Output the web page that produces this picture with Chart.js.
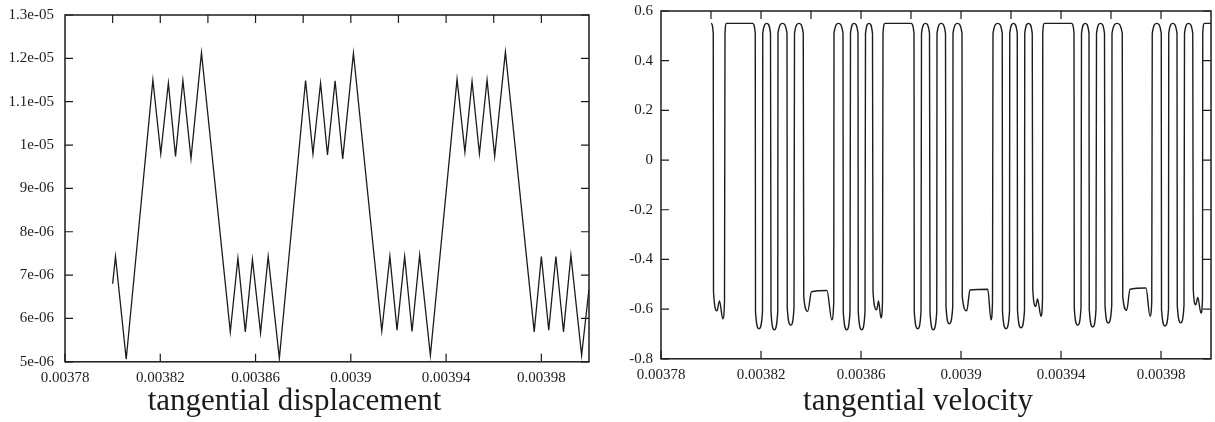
<!DOCTYPE html>
<html>
<head>
<meta charset="utf-8">
<script src="https://cdn.jsdelivr.net/npm/chart.js@4.4.1/dist/chart.umd.min.js"></script>
<style>
  body { margin: 0; background: #fff; }
  #left { position: absolute; left: 0; top: 0; width: 600px; height: 422px; }
  #right { position: absolute; left: 625px; top: 0; width: 590px; height: 422px; }
</style>
</head>
<body>
<div id="left"><canvas id="dispChart" width="600" height="422"></canvas></div>
<div id="right"><canvas id="velChart" width="590" height="422"></canvas></div>
<script>
// tick values and labels
var xTickValues = [0.00378, 0.00382, 0.00386, 0.0039, 0.00394, 0.00398];
var xTickLabels = ['0.00378', '0.00382', '0.00386', '0.0039', '0.00394', '0.00398'];
var xTopTicks = [0.0038, 0.00382, 0.00384, 0.00386, 0.00388, 0.0039, 0.00392, 0.00394, 0.00396, 0.00398];

var dispTickValues = [5e-6, 6e-6, 7e-6, 8e-6, 9e-6, 1e-5, 1.1e-5, 1.2e-5, 1.3e-5];
var dispTickLabels = ['5e-06', '6e-06', '7e-06', '8e-06', '9e-06', '1e-05', '1.1e-05', '1.2e-05', '1.3e-05'];

var velTickValues = [-0.8, -0.6, -0.4, -0.2, 0, 0.2, 0.4, 0.6];
var velTickLabels = ['-0.8', '-0.6', '-0.4', '-0.2', '0', '0.2', '0.4', '0.6'];

// tangential displacement (time, value)
var dispTime = [0.0038000, 0.0038012, 0.0038057, 0.0038169, 0.0038202, 0.0038234, 0.0038264, 0.0038295,
  0.0038329, 0.0038373, 0.0038494, 0.0038526, 0.0038557, 0.0038587, 0.0038621, 0.0038653, 0.0038700,
  0.0038810, 0.0038841, 0.0038873, 0.0038902, 0.0038934, 0.0038966, 0.0039011, 0.0039130, 0.0039164,
  0.0039194, 0.0039226, 0.0039257, 0.0039289, 0.0039334, 0.0039446, 0.0039479, 0.0039509, 0.0039540,
  0.0039572, 0.0039604, 0.0039649, 0.0039770, 0.0039800, 0.0039831, 0.0039861, 0.0039893, 0.0039924,
  0.0039969, 0.0040000];
var dispValue = [6.80e-6, 7.43e-6, 5.06e-6, 11.50e-6, 9.80e-6, 11.43e-6, 9.74e-6, 11.49e-6,
  9.69e-6, 12.13e-6, 5.69e-6, 7.39e-6, 5.69e-6, 7.36e-6, 5.67e-6, 7.43e-6, 5.08e-6,
  11.49e-6, 9.80e-6, 11.43e-6, 9.77e-6, 11.48e-6, 9.68e-6, 12.12e-6, 5.71e-6, 7.43e-6,
  5.73e-6, 7.43e-6, 5.70e-6, 7.46e-6, 5.15e-6, 11.52e-6, 9.84e-6, 11.47e-6, 9.80e-6,
  11.50e-6, 9.74e-6, 12.15e-6, 5.69e-6, 7.43e-6, 5.73e-6, 7.43e-6, 5.69e-6, 7.46e-6,
  5.15e-6, 6.68e-6];

// tangential velocity (time, value)
var velTime = [
  0.0038000, 0.0038009, 0.0038010, 0.0038024, 0.0038034, 0.0038047, 0.0038054, 0.0038056, 0.0038062, 0.0038166,
  0.0038177, 0.0038178, 0.0038192, 0.0038206, 0.0038207, 0.0038223,
  0.0038238, 0.0038240, 0.0038253, 0.0038267, 0.0038268, 0.0038286,
  0.0038304, 0.0038305, 0.0038319, 0.0038332, 0.0038334, 0.0038352,
  0.0038369, 0.0038371, 0.0038387, 0.0038402, 0.0038464, 0.0038483, 0.0038491, 0.0038492, 0.0038510,
  0.0038528, 0.0038529, 0.0038543, 0.0038556, 0.0038558, 0.0038572,
  0.0038588, 0.0038589, 0.0038603, 0.0038616, 0.0038618, 0.0038632,
  0.0038646, 0.0038648, 0.0038663, 0.0038670, 0.0038680, 0.0038686, 0.0038688, 0.0038696, 0.0038800,
  0.0038812, 0.0038813, 0.0038827, 0.0038840, 0.0038842, 0.0038858,
  0.0038874, 0.0038876, 0.0038889, 0.0038903, 0.0038904, 0.0038921,
  0.0038938, 0.0038940, 0.0038953, 0.0038967, 0.0038968, 0.0038986,
  0.0039004, 0.0039005, 0.0039023, 0.0039036, 0.0039107, 0.0039120, 0.0039126, 0.0039128, 0.0039147,
  0.0039165, 0.0039166, 0.0039180, 0.0039194, 0.0039195, 0.0039210,
  0.0039225, 0.0039226, 0.0039240, 0.0039254, 0.0039255, 0.0039270,
  0.0039285, 0.0039287, 0.0039299, 0.0039306, 0.0039320, 0.0039326, 0.0039327, 0.0039334, 0.0039442,
  0.0039452, 0.0039453, 0.0039467, 0.0039480, 0.0039482, 0.0039497,
  0.0039512, 0.0039513, 0.0039527, 0.0039540, 0.0039542, 0.0039558,
  0.0039574, 0.0039576, 0.0039589, 0.0039603, 0.0039604, 0.0039624,
  0.0039645, 0.0039647, 0.0039663, 0.0039676, 0.0039740, 0.0039756, 0.0039763, 0.0039765, 0.0039783,
  0.0039801, 0.0039802, 0.0039816, 0.0039830, 0.0039831, 0.0039847,
  0.0039864, 0.0039865, 0.0039879, 0.0039892, 0.0039894, 0.0039910,
  0.0039927, 0.0039929, 0.0039939, 0.0039947, 0.0039960, 0.0039966, 0.0039967, 0.0039974, 0.0040000];
var velValue = [
  0.55, 0.51, -0.53, -0.607, -0.567, -0.639, -0.57, 0.51, 0.55, 0.55,
  0.51, -0.61, -0.679, -0.61, 0.51, 0.55,
  0.51, -0.61, -0.683, -0.61, 0.51, 0.55,
  0.51, -0.595, -0.665, -0.595, 0.51, 0.55,
  0.51, -0.55, -0.609, -0.53, -0.525, -0.643, -0.57, 0.51, 0.55,
  0.51, -0.61, -0.683, -0.61, 0.51, 0.55,
  0.51, -0.61, -0.683, -0.61, 0.51, 0.55,
  0.51, -0.53, -0.603, -0.567, -0.636, -0.57, 0.51, 0.55, 0.55,
  0.51, -0.61, -0.679, -0.61, 0.51, 0.55,
  0.51, -0.61, -0.683, -0.61, 0.51, 0.55,
  0.51, -0.59, -0.659, -0.59, 0.51, 0.55,
  0.51, -0.55, -0.607, -0.523, -0.52, -0.643, -0.57, 0.51, 0.55,
  0.51, -0.61, -0.679, -0.61, 0.51, 0.55,
  0.51, -0.605, -0.675, -0.605, 0.51, 0.55,
  0.51, -0.52, -0.589, -0.559, -0.629, -0.56, 0.51, 0.55, 0.55,
  0.51, -0.595, -0.665, -0.595, 0.51, 0.55,
  0.51, -0.6, -0.672, -0.6, 0.51, 0.55,
  0.51, -0.585, -0.656, -0.585, 0.51, 0.55,
  0.51, -0.55, -0.605, -0.52, -0.515, -0.629, -0.57, 0.51, 0.55,
  0.51, -0.6, -0.668, -0.6, 0.51, 0.55,
  0.51, -0.585, -0.655, -0.585, 0.51, 0.55,
  0.51, -0.52, -0.583, -0.553, -0.616, -0.56, 0.51, 0.55, 0.55];

var ink = '#1c1c1c';
Chart.defaults.font.family = "'Liberation Serif', 'Times New Roman', serif";
Chart.defaults.color = ink;

// box round the plot with short ticks pointing inward
var frameTicks = {
  id: 'frameTicks',
  afterDraw: function (chart, args, opts) {
    var ctx = chart.ctx;
    var a = chart.chartArea;
    var x = chart.scales.x;
    var y = chart.scales.y;
    ctx.save();
    ctx.strokeStyle = ink;
    ctx.lineWidth = 1.5;
    ctx.strokeRect(a.left, a.top, a.right - a.left, a.bottom - a.top);
    ctx.lineWidth = 1.2;
    ctx.beginPath();
    opts.bottom.forEach(function (v) {
      var px = x.getPixelForValue(v);
      ctx.moveTo(px, a.bottom);
      ctx.lineTo(px, a.bottom - 8);
    });
    opts.top.forEach(function (v) {
      var px = x.getPixelForValue(v);
      ctx.moveTo(px, a.top);
      ctx.lineTo(px, a.top + 8);
    });
    opts.side.forEach(function (v) {
      var py = y.getPixelForValue(v);
      ctx.moveTo(a.left, py);
      ctx.lineTo(a.left + 8, py);
      ctx.moveTo(a.right, py);
      ctx.lineTo(a.right - 8, py);
    });
    ctx.stroke();
    ctx.restore();
  }
};

function toPoints(xs, ys) {
  var pts = [];
  for (var i = 0; i < xs.length; i++) {
    pts.push({ x: xs[i], y: ys[i] });
  }
  return pts;
}

function makeChart(id, cfg) {
  return new Chart(document.getElementById(id), {
    type: 'line',
    data: {
      datasets: [{
        data: toPoints(cfg.xs, cfg.ys),
        borderColor: ink,
        borderWidth: cfg.lineWidth,
        pointRadius: 0,
        tension: 0,
        cubicInterpolationMode: cfg.smooth ? 'monotone' : 'default',
        fill: false
      }]
    },
    options: {
      responsive: false,
      animation: false,
      events: [],
      layout: { padding: cfg.padding },
      plugins: {
        legend: { display: false },
        tooltip: { enabled: false },
        title: {
          display: true,
          position: 'bottom',
          text: cfg.title,
          color: ink,
          font: { size: 31, weight: 'normal', lineHeight: 1.2 },
          padding: { top: 0, bottom: 2 }
        },
        frameTicks: { bottom: xTickValues, top: xTopTicks, side: cfg.yTicks }
      },
      scales: {
        x: {
          type: 'linear',
          min: 0.00378,
          max: 0.004,
          grid: { display: false, drawTicks: false },
          border: { display: false },
          afterBuildTicks: function (s) {
            s.ticks = xTickValues.map(function (v) { return { value: v }; });
          },
          afterFit: function (s) { s.height = cfg.xHeight; },
          ticks: {
            autoSkip: false,
            maxRotation: 0,
            padding: 7,
            font: { size: 15 },
            callback: function (v, i) { return xTickLabels[i]; }
          }
        },
        y: {
          type: 'linear',
          min: cfg.yMin,
          max: cfg.yMax,
          grid: { display: false, drawTicks: false },
          border: { display: false },
          afterBuildTicks: function (s) {
            s.ticks = cfg.yTicks.map(function (v) { return { value: v }; });
          },
          afterFit: function (s) {
            s.width = cfg.yWidth;
            // let the end labels hang over the frame like the original
            s.paddingTop = 0;
            s.paddingBottom = 0;
          },
          ticks: {
            autoSkip: false,
            padding: cfg.yPad,
            font: { size: 15 },
            callback: function (v, i) { return cfg.yLabels[i]; }
          }
        }
      }
    },
    plugins: [frameTicks]
  });
}

makeChart('dispChart', {
  xs: dispTime, ys: dispValue, smooth: false, lineWidth: 1.3,
  title: 'tangential displacement',
  yMin: 5e-6, yMax: 1.3e-5, yTicks: dispTickValues, yLabels: dispTickLabels,
  padding: { left: 0, top: 15, right: 11, bottom: 0 },
  yWidth: 65, yPad: 11, xHeight: 21
});

makeChart('velChart', {
  xs: velTime, ys: velValue, smooth: true, lineWidth: 1.4,
  title: 'tangential velocity',
  yMin: -0.8, yMax: 0.6, yTicks: velTickValues, yLabels: velTickLabels,
  padding: { left: 0, top: 11, right: 4, bottom: 0 },
  yWidth: 36, yPad: 8, xHeight: 24
});
</script>
</body>
</html>
